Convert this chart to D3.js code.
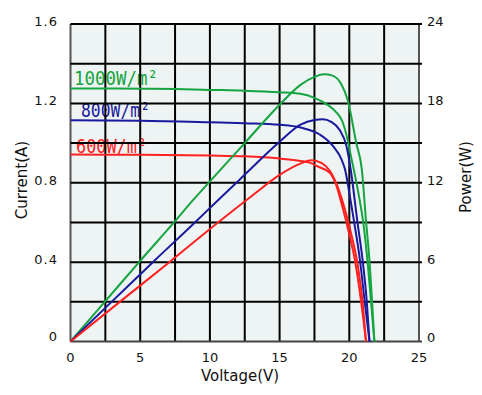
<!DOCTYPE html>
<html>
<head>
<meta charset="utf-8">
<script src="https://cdn.jsdelivr.net/npm/d3@7"></script>
<style>
  body { margin: 0; background: #fff; }
  svg { display: block; }
</style>
</head>
<body>
<svg id="chart" width="482" height="395"></svg>
<script>
// x ticks (voltage) and the two y axes
const voltTicks = [0, 5, 10, 15, 20, 25];
const currentTicks = [0, 0.4, 0.8, 1.2, 1.6];
const currentLabels = ["0", "0.4", "0.8", "1.2", "1.6"];
const powerTicks = [0, 6, 12, 18, 24];

// I-V curves: [voltage, current]
const iv1000 = [[0,1.275],[2.5,1.275],[5,1.274],[7.5,1.272],[10,1.268],[12.5,1.264],[15,1.256],[16.5,1.248],[17.5,1.228],[18.5,1.19],[19,1.16],[19.5,1.11],[19.8,1.04],[20.1,0.94],[20.4,0.84],[20.7,0.73],[21,0.6],[21.3,0.41],[21.55,0.21],[21.8,0]];
const iv800 = [[0,1.115],[5,1.113],[10,1.105],[12.5,1.1],[15,1.092],[16.5,1.078],[17.9,1.042],[18.85,0.983],[19.45,0.916],[19.7,0.866],[20,0.75],[20.34,0.605],[20.77,0.406],[21.1,0.204],[21.45,0]];
const iv600 = [[0,0.942],[5,0.941],[10,0.937],[12.5,0.933],[15,0.922],[16.5,0.91],[17.2,0.9],[17.8,0.88],[18.6,0.85],[19,0.8],[19.5,0.68],[20,0.54],[20.4,0.41],[20.85,0.2],[21.2,0]];

// power curves: [voltage, power]
const pw1000 = [[0,0],[2.5,3.05],[5,6.1],[7.5,9.1],[8.8,10.7],[10,12.1],[12.5,15],[15,17.9],[16.5,19.4],[17.5,20],[18.2,20.2],[18.8,20.1],[19.4,19.5],[19.9,18.2],[20.5,15],[20.9,13],[21.2,9.1],[21.45,6.1],[21.63,3.05],[21.8,0]];
const pw800 = [[0,0],[3,3.05],[6,6.09],[9,9.07],[10.6,10.7],[12.1,12.2],[15,15.1],[16.5,16.4],[17.5,16.75],[18.1,16.8],[18.7,16.6],[19.3,16],[19.8,14.75],[20.1,13],[20.58,9.07],[20.96,6.09],[21.25,3.05],[21.45,0]];
const pw600 = [[0,0],[3.6,3.05],[7.2,6.09],[10.67,9.07],[13,11],[15,12.6],[16.5,13.45],[17.3,13.7],[18,13.5],[18.6,12.9],[19.2,11.6],[19.6,10.3],[20.05,8.5],[20.6,5.8],[20.95,3],[21.2,0]];

const irradiance = ["1000W/m²", "800W/m²", "600W/m²"];
const colors = ["#15a540", "#1a1a9e", "#ff2020"];

const svg = d3.select("#chart");
const plotL = 70.5, plotR = 419, plotT = 24, plotB = 341.5;

const x = d3.scaleLinear().domain([0, 25]).range([plotL, plotR]);
const yI = d3.scaleLinear().domain([0, 1.6]).range([plotB, plotT]);
const yP = d3.scaleLinear().domain([0, 24]).range([plotB, plotT]);

// plot background
svg.append("rect")
    .attr("x", plotL).attr("y", plotT)
    .attr("width", plotR - plotL).attr("height", plotB - plotT)
    .attr("fill", "#eef3f3");

// irradiance labels (grid is drawn over them, like the original)
const labelPos = [[74, 85, 84], [81, 117, 69], [76, 153, 71]];
irradiance.forEach((name, i) => {
    svg.append("text")
        .attr("x", labelPos[i][0]).attr("y", labelPos[i][1])
        .attr("fill", colors[i])
        .attr("font-family", "DejaVu Sans Mono, monospace")
        .attr("font-size", 20)
        .attr("textLength", labelPos[i][2])
        .attr("lengthAdjust", "spacingAndGlyphs")
        .text(name);
});

// grid
const grid = svg.append("g").attr("stroke", "#000").attr("stroke-width", 2);
d3.range(0, 25.01, 2.5).forEach(v => {
    grid.append("line")
        .attr("x1", x(v)).attr("x2", x(v))
        .attr("y1", plotT).attr("y2", plotB)
        .attr("stroke", v === 0 || v === 25 ? "#555" : "#000");
});
d3.range(0, 1.61, 0.2).forEach(c => {
    grid.append("line")
        .attr("x1", plotL).attr("x2", plotR + 3)
        .attr("y1", yI(c)).attr("y2", yI(c))
        .attr("stroke", c < 0.01 ? "#444" : "#000");
});

// curves
const line = d3.line().curve(d3.curveMonotoneX);
const ivSets = [iv1000, iv800, iv600];
const pwSets = [pw1000, pw800, pw600];
ivSets.forEach((d, i) => {
    svg.append("path")
        .attr("d", line(d.map(p => [x(p[0]), yI(p[1])])))
        .attr("fill", "none").attr("stroke", colors[i]).attr("stroke-width", 2);
});
pwSets.forEach((d, i) => {
    svg.append("path")
        .attr("d", line(d.map(p => [x(p[0]), yP(p[1])])))
        .attr("fill", "none").attr("stroke", colors[i]).attr("stroke-width", 2);
});

// tick labels
const tickFont = "DejaVu Sans, sans-serif";
currentTicks.forEach((c, i) => {
    svg.append("text")
        .attr("x", 58).attr("y", yI(c) + (c === 0 ? -1 : 2))
        .attr("text-anchor", "end")
        .attr("font-family", tickFont).attr("font-size", 13)
        .attr("letter-spacing", 1)
        .attr("fill", "#111")
        .text(currentLabels[i]);
});
powerTicks.forEach(p => {
    svg.append("text")
        .attr("x", 427).attr("y", yP(p) + (p === 0 ? 0 : 2))
        .attr("font-family", tickFont).attr("font-size", 13)
        .attr("fill", "#111")
        .text(p);
});
voltTicks.forEach(v => {
    svg.append("text")
        .attr("x", x(v)).attr("y", 362)
        .attr("text-anchor", "middle")
        .attr("font-family", tickFont).attr("font-size", 13)
        .attr("fill", "#111")
        .text(v);
});

// axis titles
svg.append("text")
    .attr("x", 240).attr("y", 381)
    .attr("text-anchor", "middle")
    .attr("font-family", tickFont).attr("font-size", 15)
    .attr("fill", "#111")
    .text("Voltage(V)");
svg.append("text")
    .attr("transform", "translate(27,180) rotate(-90)")
    .attr("text-anchor", "middle")
    .attr("font-family", tickFont).attr("font-size", 15)
    .attr("fill", "#111")
    .text("Current(A)");
svg.append("text")
    .attr("transform", "translate(471,177) rotate(-90)")
    .attr("text-anchor", "middle")
    .attr("font-family", tickFont).attr("font-size", 15)
    .attr("fill", "#111")
    .text("Power(W)");
</script>
</body>
</html>
